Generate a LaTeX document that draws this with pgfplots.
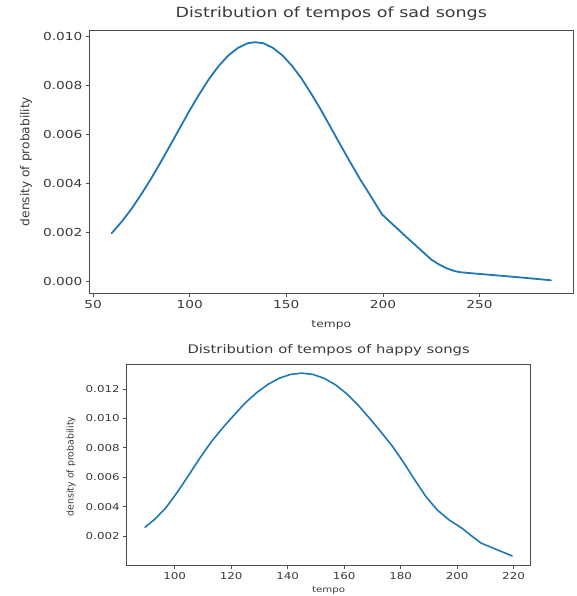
\documentclass[border=0pt]{standalone}
\usepackage{fontspec}
\setmainfont{DejaVu Sans}[FakeStretch=1.25]
\newfontfamily\ylabfont{DejaVu Sans}
\usepackage{pgfplots}
\pgfplotsset{compat=1.18}
\definecolor{mplblue}{HTML}{1F77B4}
\definecolor{txt}{HTML}{3A3A3A}
\pgfplotsset{mpl/.style={
  scale only axis,
  axis line style={black!70, line width=0.9pt},
  tick align=outside,
  major tick length=3.5pt,
  tick style={black!70, line width=0.8pt},
  xtick pos=left, ytick pos=left,
  tick label style={text=txt},
  /pgf/number format/assume math mode=true,
  scaled y ticks=false,
  scaled x ticks=false,
  yticklabel style={/pgf/number format/fixed, /pgf/number format/fixed zerofill, /pgf/number format/precision=3},
  title style={text=txt},
  label style={text=txt},
}}
\pgfplotstableread{
x y
59.5 0.00195
65 0.00245
70 0.00297
75 0.00356
80 0.00419
85 0.00487
90 0.00557
95 0.00628
100 0.00699
105 0.00765
110 0.00827
115 0.00880
120 0.00923
125 0.00954
130 0.00973
134 0.00977
138 0.00973
143 0.00954
148 0.00923
153 0.00880
158 0.00827
163 0.00765
168 0.00699
173 0.00628
178 0.00557
183 0.00487
188 0.00419
193 0.00356
199.5 0.00273
206 0.00225
213 0.00174
220 0.00124
225 0.00088
229 0.00068
233 0.00052
237 0.00041
240 0.00036
250 0.00029
262 0.00021
275 0.00012
287 0.00003
}\sad
\pgfplotstableread{
x y
89.5 0.00260
93 0.00315
97 0.00395
101 0.00500
105 0.00615
109 0.00733
113 0.00842
117 0.00936
121 0.01022
125 0.01106
129 0.01175
133 0.01231
137 0.01273
141 0.01299
145 0.01308
149 0.01299
153 0.01272
157 0.01228
161 0.01166
165 0.01089
169 0.01001
173 0.00909
177 0.00813
181 0.00702
185 0.00582
189 0.00467
193 0.00377
197 0.00312
201.8 0.00252
205 0.00203
208.5 0.00152
214 0.00108
219.5 0.00065
}\happy
\begin{document}
\begin{tikzpicture}
\useasboundingbox (0,0) rectangle (576pt,-596pt);
\begin{axis}[mpl,
  at={(89.5pt,-30pt)}, anchor=north west,
  width=483.5pt, height=263pt,
  xmin=48.1, xmax=298.4, ymin=-0.00049, ymax=0.01027,
  xtick={50,100,150,200,250},
  ytick={0,0.002,0.004,0.006,0.008,0.010},
  tick label style={font=\fontsize{11}{13}\selectfont},
  title={Distribution of tempos of sad songs},
  title style={font=\fontsize{14}{16}\selectfont, at={([yshift=10.5pt]axis description cs:0.5,1)}, anchor=center},
  xlabel={tempo},
  xlabel style={font=\fontsize{9.8}{11}\selectfont, at={([yshift=-32pt]axis description cs:0.5,0)}, anchor=center},
  ylabel={\ylabfont density of probability},
  ylabel style={font=\fontsize{12.2}{14}\selectfont, at={([xshift=-63.5pt]axis description cs:0,0.5)}, anchor=center},
]
\addplot[mplblue, line width=1.8pt, no marks, line join=round, line cap=round] table[x=x,y=y] {\sad};
\end{axis}
\begin{axis}[mpl,
  at={(126.7pt,-364pt)}, anchor=north west,
  width=403.8pt, height=201pt,
  xmin=83, xmax=226, ymin=0.00003, ymax=0.0137,
  xtick={100,120,140,160,180,200,220},
  ytick={0.002,0.004,0.006,0.008,0.010,0.012},
  tick label style={font=\fontsize{9.5}{11}\selectfont},
  title={Distribution of tempos of happy songs},
  title style={font=\fontsize{11.8}{14}\selectfont, at={([yshift=8pt]axis description cs:0.5,1)}, anchor=center},
  xlabel={tempo},
  xlabel style={font=\fontsize{8.2}{10}\selectfont, at={([yshift=-25pt]axis description cs:0.5,0)}, anchor=center},
  ylabel={\ylabfont density of probability},
  ylabel style={font=\fontsize{9.4}{11}\selectfont, at={([xshift=-55.7pt,yshift=-2pt]axis description cs:0,0.5)}, anchor=center},
]
\addplot[mplblue, line width=1.6pt, no marks, line join=round, line cap=round] table[x=x,y=y] {\happy};
\end{axis}
\end{tikzpicture}
\end{document}
